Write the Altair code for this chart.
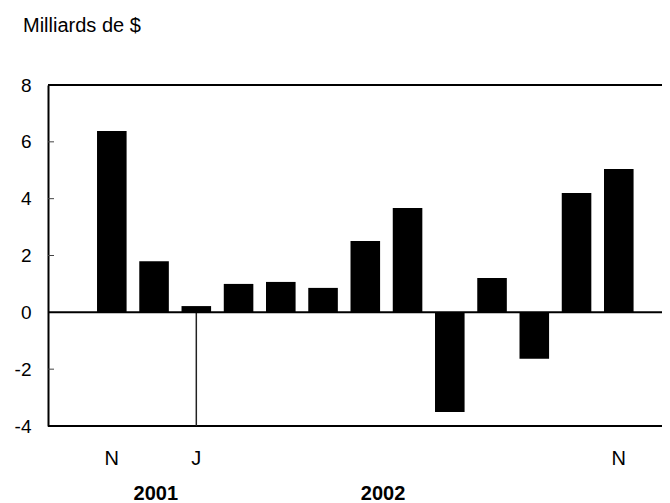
import altair as alt
import pandas as pd

# ---- data ----
months = ["nov 2001", "déc 2001", "janv 2002", "févr 2002", "mars 2002", "avr 2002",
          "mai 2002", "juin 2002", "juil 2002", "août 2002", "sept 2002", "oct 2002", "nov 2002"]
values = [6.38, 1.80, 0.22, 1.00, 1.07, 0.86, 2.51, 3.67, -3.51, 1.21, -1.63, 4.20, 5.04]
month_labels = ["N", "", "J", "", "", "", "", "", "", "", "", "", "N"]
y_ticks = [-4, -2, 0, 2, 4, 6, 8]
inner_ticks = [-2, 2, 4, 6]
years = ["2001", "2002"]
year_anchor = ["déc 2001", "mai 2002"]
year_offsets = [16.5, 32.5]
separator_month = "janv 2002"
frame_values = [8, -4]

W, H = 614, 341
FONT = "Liberation Sans"

df = pd.DataFrame({"month": months, "value": values, "label": month_labels})
lab_df = df[df["label"] != ""]
year_df = pd.DataFrame({"month": year_anchor, "year": years, "off": year_offsets})
sep_df = pd.DataFrame({"month": [separator_month], "y0": [0], "y1": [y_ticks[0]]})
tick_df = pd.DataFrame({"t": inner_ticks})
frame_df = pd.DataFrame({"f": frame_values})

xscale = alt.Scale(domain=months, paddingInner=0.3, paddingOuter=0.9166, align=0.633)
yscale = alt.Scale(domain=[y_ticks[0], y_ticks[-1]], nice=False, zero=False)

base = alt.Chart(df)

bars = base.mark_bar(color="black").encode(
    x=alt.X("month:N", scale=xscale, axis=None, sort=months),
    y=alt.Y("value:Q", scale=yscale,
            axis=alt.Axis(values=y_ticks, title=None, grid=False, ticks=False,
                          labelExpr="replace(format(datum.value, 'd'), '\u2212', '-')",
                          domain=True, domainColor="black", domainWidth=2,
                          labelFont=FONT, labelFontSize=19, labelColor="black",
                          labelPadding=17, labelFlush=False, labelOverlap=False)),
    y2=alt.datum(0),
)

frame = alt.Chart(frame_df).mark_rule(color="black", strokeWidth=2).encode(
    y=alt.Y("f:Q", scale=yscale), x=alt.value(0), x2=alt.value(W)
)

zero = alt.Chart(df.head(1)).mark_rule(color="black", strokeWidth=2).encode(
    y=alt.datum(0), x=alt.value(0), x2=alt.value(W)
)

ticks = alt.Chart(tick_df).mark_rule(color="#444", strokeWidth=1).encode(
    y=alt.Y("t:Q", scale=yscale), x=alt.value(0), x2=alt.value(6)
)

sep = alt.Chart(sep_df).mark_rule(color="#222", strokeWidth=1.5).encode(
    x=alt.X("month:N", scale=xscale, sort=months),
    y=alt.Y("y0:Q", scale=yscale), y2="y1:Q"
)

mlabels = alt.Chart(lab_df).mark_text(font=FONT, fontSize=20, color="black",
                                      baseline="alphabetic", align="center").encode(
    x=alt.X("month:N", scale=xscale, sort=months),
    y=alt.value(380),
    text="label:N",
)

ylabels = alt.Chart(year_df).mark_text(font=FONT, fontSize=20, fontWeight="bold",
                                       color="black", baseline="alphabetic",
                                       align="center").encode(
    x=alt.X("month:N", scale=xscale, sort=months),
    xOffset=alt.XOffset("off:Q", scale=None),
    y=alt.value(415),
    text="year:N",
)

chart = alt.layer(bars, frame, ticks, sep, zero, mlabels, ylabels).properties(
    width=W, height=H,
    title=alt.TitleParams("Milliards de $", anchor="start", frame="group", orient="top",
                          font=FONT, fontSize=20, fontWeight="normal", color="black",
                          dx=-25, baseline="alphabetic", offset=24),
    autosize=alt.AutoSizeParams(type="none"),
    padding={"left": 40, "top": 77, "right": 0, "bottom": 77},
).configure_view(stroke=None)

chart.save("out.html", embed_options={"renderer": "svg", "actions": False})
